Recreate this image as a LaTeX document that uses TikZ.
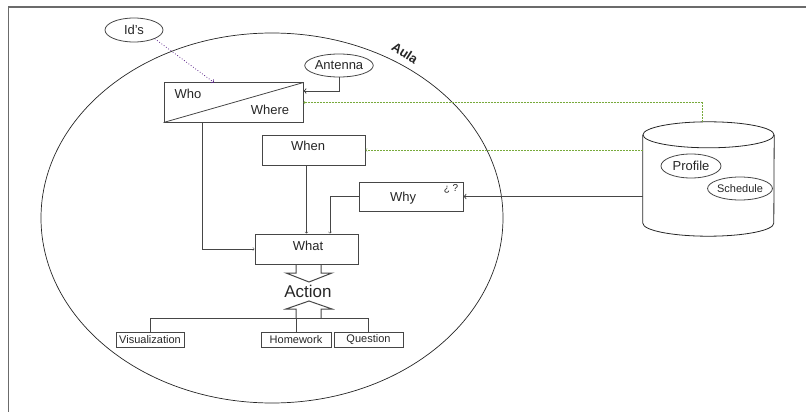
\documentclass[tikz,border=0pt]{standalone}
\usepackage{fontspec}
\setmainfont{Liberation Sans}
\usetikzlibrary{shapes.geometric}
\definecolor{trait}{RGB}{70,70,70}
\definecolor{vertgris}{RGB}{120,170,60}
\definecolor{violet}{RGB}{95,40,140}
\begin{document}
\begin{tikzpicture}
    [x=1pt,y=-1pt,%
    every node/.style={font=\fontsize{13}{15}\selectfont,text=black!85},%
    boite/.style={draw=trait,line width=1pt,rectangle,inner sep=0pt},
    bulle/.style={draw=trait,line width=0.8pt,ellipse,inner sep=0pt},
    petit/.style={font=\fontsize{11}{13}\selectfont}]
    \useasboundingbox (0,0) rectangle (806,412);
    \draw[trait!80,line width=1.4pt] (806,7) -- (8.5,7) -- (8.5,412);

    \draw[black!85,line width=0.7pt] (272,218) ellipse (231pt and 185pt);
    \node[font=\bfseries\fontsize{13}{15}\selectfont,rotate=-33] (Aula) at (405,53) {Aula};

    \node[bulle,minimum width=58pt,minimum height=24pt] (Ids) at (134,30) {Id's};
    \node[bulle,minimum width=59pt,minimum height=23pt] (Ant) at (339,65.5) {Antenna};

    \node[boite,minimum width=139pt,minimum height=39pt] (WW) at (233.5,102.5) {};
    \draw[trait,line width=0.8pt] (WW.south west) -- (WW.north east);
    \node (Who) at (188,94) {Who};
    \node (Where) at (270,110) {Where};

    \node[boite,minimum width=103pt,minimum height=30pt] (Wn) at (313.5,150) {};
    \node (WnT) at (308,146) {When};
    \node[boite,minimum width=104pt,minimum height=29pt] (Why) at (411,196.5) {};
    \node (WhyT) at (403,198) {Why};
    \node[font=\fontsize{10}{12}\selectfont] (Qm) at (451,188.5) {¿ ?};
    \node[boite,minimum width=103pt,minimum height=30pt] (Wt) at (306.5,249) {};
    \node (WtT) at (308,246) {What};

    \node[font=\fontsize{17}{19}\selectfont] (Act) at (308,291) {Action};

    \node[boite,petit,minimum width=68pt,minimum height=15pt] (Vis) at (150,339.5) {Visualization};
    \node[boite,petit,minimum width=70pt,minimum height=15pt] (Hw) at (296,339.5) {Homework};
    \node[boite,petit,minimum width=69pt,minimum height=15pt] (Qu) at (368.5,339.5) {Question};

    \node[minimum width=131pt,minimum height=88pt,inner sep=0pt] (DB) at (708.5,179) {};
    \draw[black!85,line width=0.8pt] (DB.north) ellipse (65.5pt and 13pt);
    \draw[black!85,line width=0.8pt] (DB.north west) -- (DB.south west)
      arc[start angle=180,end angle=360,x radius=65.5pt,y radius=13pt] -- (DB.north east);
    \node[bulle,minimum width=60pt,minimum height=24pt] (Prof) at (691,166) {Profile};
    \node[bulle,petit,minimum width=62pt,minimum height=23pt] (Sch) at (740,188.5) {Schedule};

    \draw[->,>=to,violet,dotted,line width=0.8pt] (Ids.south east) -- ([xshift=-19.5pt]WW.north);
    \draw[->,>=to,trait,line width=1pt] (Ant.south) |- ([yshift=11.5pt]WW.east);
    \draw[->,>=to,vertgris,dash pattern=on 2pt off 1pt] ([xshift=-6.5pt,yshift=13pt]DB.north) |- (WW.east);
    \draw[->,>=to,vertgris,dash pattern=on 2pt off 1pt] (Wn.east -| DB.west) -- (Wn.east);
    \draw[->,>=to,trait,line width=1pt] (Why.east -| DB.west) -- (Why.east);

    \draw[->,>=to,trait] ([xshift=-31.5pt]WW.south) |- (Wt.west);
    \draw[->,>=to,trait] (Wn.south -| Wt.north) -- (Wt.north);
    \draw[->,>=to,trait] (Why.west) -| ([xshift=23.5pt]Wt.north);

    \draw[trait,line width=1pt] (296,264) -- (296,273) -- (286,273) -- (309,282)
      -- (332,273) -- (321,273) -- (321,264);
    \draw[trait,line width=1pt] (296,318) -- (296,309) -- (286,309) -- (309,301)
      -- (332,309) -- (321,309) -- (321,318);

    \draw[trait,line width=0.8pt] (Vis.north) |- (Qu.north |- 0,318) -- (Qu.north);
    \draw[trait,line width=0.8pt] (Hw.north) -- (Hw.north |- 0,318);
\end{tikzpicture}
\end{document}
